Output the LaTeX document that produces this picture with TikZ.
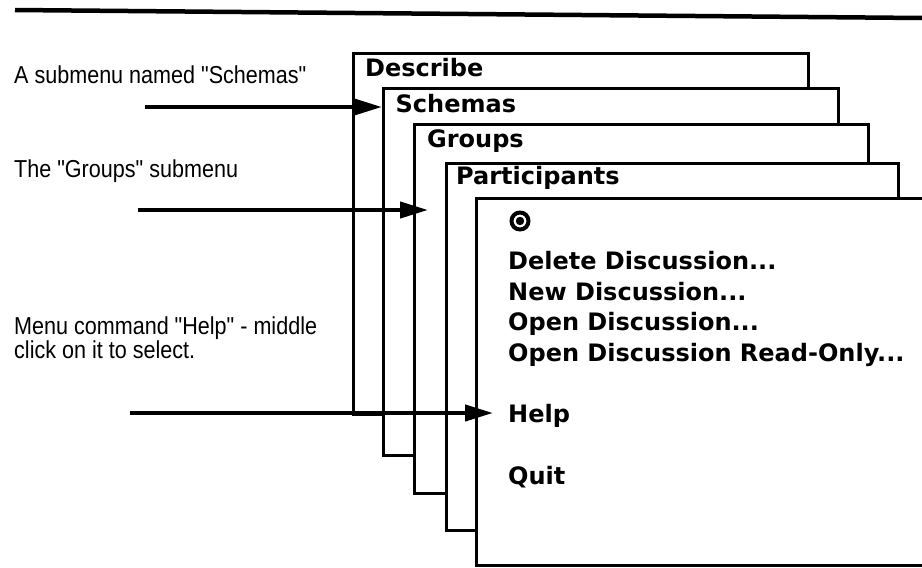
\documentclass[tikz,border=0pt]{standalone}
\usepackage{fontspec}
\setmainfont{Liberation Sans}
\newfontfamily\notefont{Liberation Sans}[FakeStretch=0.88]
\newfontfamily\menufont{DejaVu Sans}
\usetikzlibrary{arrows.meta}
\begin{document}
\begin{tikzpicture}[x=1pt,y=-1pt,
  menubox/.style={draw, fill=white, line width=2.8pt, anchor=north west, inner sep=0pt},
  menutext/.style={anchor=base west, inner sep=0pt, font=\menufont\bfseries\fontsize{24}{28}\selectfont},
  note/.style={anchor=base west, inner sep=0pt, align=left, font=\notefont\fontsize{24.5}{20}\selectfont},
  pointer/.style={line width=4.2pt, -{Triangle[length=28pt,width=16pt]}},
  headrule/.style={line width=4.5pt}]
\useasboundingbox (0,0) rectangle (922,568);
\clip (0,0) rectangle (922,568);

% page rule across the top
\coordinate (ruleL) at (15,10);
\coordinate (ruleR) at (922,18);
\draw[headrule] (ruleL) -- (ruleR);

% cascade of menus, each drawn over the previous one
\node[menubox, minimum width=455pt, minimum height=361pt] (describe) at (352,52) {};
\node[menutext] (describeT) at (365,76) {Describe};
\node[menubox, minimum width=455pt, minimum height=367pt] (schemas) at (382,87) {};
\node[menutext] (schemasT) at (395.5,112) {Schemas};
\node[menubox, minimum width=454pt, minimum height=369pt] (groups) at (413,123) {};
\node[menutext] (groupsT) at (427,147) {Groups};
\node[menubox, minimum width=452pt, minimum height=367pt] (participants) at (445,162) {};
\node[menutext] (participantsT) at (456,184) {Participants};
\node[menubox, minimum width=470pt, minimum height=367pt] (main) at (475,197) {};

% contents of the innermost menu
\node[circle, draw, line width=4pt, minimum size=17pt, inner sep=0pt] (radio) at (520,221) {};
\fill (radio.center) circle (4.2pt);
\node[menutext] (delete) at (508,269) {Delete Discussion...};
\node[menutext] (new) at (508,300) {New Discussion...};
\node[menutext] (open) at (508,330) {Open Discussion...};
\node[menutext] (openro) at (508,361) {Open Discussion Read-Only...};
\node[menutext] (help) at (508,422) {Help};
\node[menutext] (quit) at (508,484) {Quit};

% callout labels
\node[note] (noteSchemas) at (14,83) {A submenu named "Schemas"};
\node[note] (noteGroups) at (14,177) {The "Groups" submenu};
\node[note] (noteHelp) at (14,358) {Menu command "Help" - middle\\click on it to select.};

% pointer arrows
\coordinate (aS) at (145,107);
\coordinate (bS) at (382,107);
\coordinate (aG) at (138,210);
\coordinate (bG) at (428,210);
\coordinate (aH) at (130,413);
\coordinate (bH) at (493,413);
\draw[pointer] (aS) -- (bS);
\draw[pointer] (aG) -- (bG);
\draw[pointer] (aH) -- (bH);
\end{tikzpicture}
\end{document}
